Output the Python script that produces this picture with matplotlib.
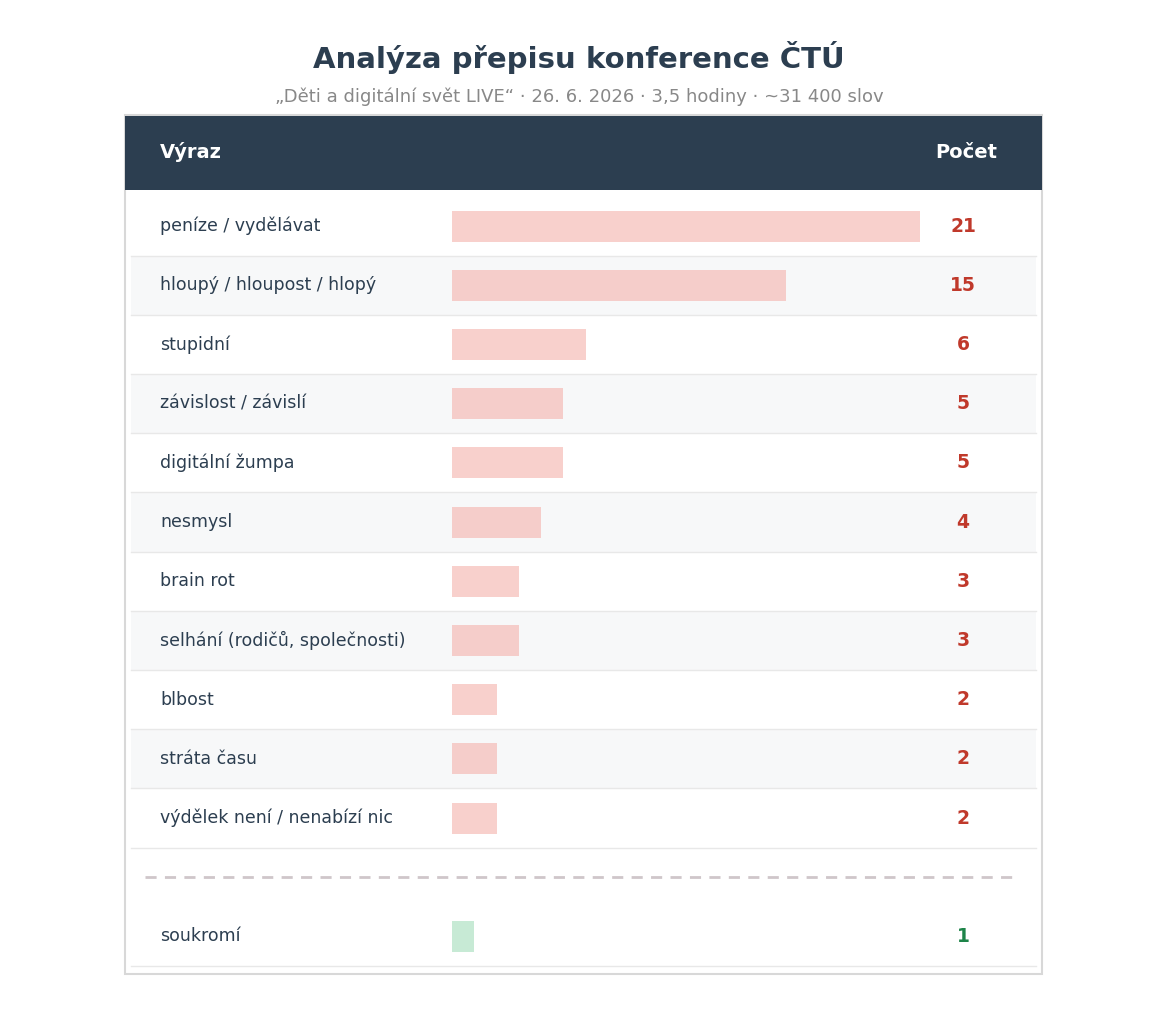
import matplotlib
matplotlib.use("Agg")
import matplotlib.pyplot as plt
from matplotlib.patches import Rectangle

TITLE = "Analýza přepisu konference ČTÚ"
SUBTITLE = "„Děti a digitální svět LIVE“ · 26. 6. 2026 · 3,5 hodiny · ~31 400 slov"

TERMS = ["peníze / vydělávat", "hloupý / hloupost / hlopý", "stupidní",
         "závislost / závislí", "digitální žumpa", "nesmysl", "brain rot",
         "selhání (rodičů, společnosti)", "blbost", "stráta času",
         "výdělek není / nenabízí nic"]
COUNTS = [21, 15, 6, 5, 5, 4, 3, 3, 2, 2, 2]
EXTRA_TERMS = ["soukromí"]
EXTRA_COUNTS = [1]

W, H = 1158, 1036
DARK = "#2c3e50"
RED = "#c0392b"
GREEN = "#1e8449"

fig = plt.figure(figsize=(W / 100, H / 100), dpi=100)
ax = fig.add_axes([0, 0, 1, 1])
ax.set_xlim(0, W)
ax.set_ylim(H, 0)
ax.axis("off")

# card + header
ax.add_patch(Rectangle((125, 115), 917, 859, facecolor="white",
                       edgecolor="#d8d8d8", linewidth=1.5, zorder=1))
ax.add_patch(Rectangle((125, 116), 917, 74, facecolor=DARK, zorder=2))
ax.text(160, 152, "Výraz", color="white", fontsize=14, fontweight="bold",
        va="center", zorder=3)
ax.text(997, 152, "Počet", color="white", fontsize=14, fontweight="bold",
        va="center", ha="right", zorder=3)

ax.text(W / 2, 57, TITLE, ha="center", va="center", fontsize=21,
        fontweight="bold", color=DARK)
ax.text(W / 2, 97, SUBTITLE, ha="center", va="center", fontsize=13,
        color="#888888")

row_h = 59.2
first = 226
centers = [first + i * row_h for i in range(len(TERMS))]
extra_centers = [936]

for i, (y, term, n) in enumerate(zip(centers, TERMS, COUNTS)):
    if i % 2 == 1:
        ax.add_patch(Rectangle((131, y - row_h / 2), 905, row_h,
                               facecolor="#f7f8f9", zorder=1.5))
    ax.plot([131, 1036], [y + row_h / 2] * 2, color="#e8e8e8", lw=1, zorder=1.6)
    ax.text(160, y, term, va="center", fontsize=12.5, color=DARK, zorder=3)
    ax.text(963, y, str(n), va="center", ha="center", fontsize=13.5,
            fontweight="bold", color=RED, zorder=3)

ax.plot([145, 1020], [877, 877], color="#cfc6ca", lw=2, ls=(0, (4, 3)), zorder=2)

for y, term, n in zip(extra_centers, EXTRA_TERMS, EXTRA_COUNTS):
    ax.plot([131, 1036], [y + 30] * 2, color="#e8e8e8", lw=1, zorder=1.6)
    ax.text(160, y, term, va="center", fontsize=12.5, color=DARK, zorder=3)
    ax.text(963, y, str(n), va="center", ha="center", fontsize=13.5,
            fontweight="bold", color=GREEN, zorder=3)

# bars on their own axes: 0..21 maps to x 452..920 px
bx = fig.add_axes([452 / W, 0, (920 - 452) / W, 1])
bx.set_xlim(0, max(COUNTS))
bx.set_ylim(H, 0)
bx.axis("off")
bx.patch.set_alpha(0)
bx.barh(centers, COUNTS, height=31, left=0, color="#f5b7b1", alpha=0.65, zorder=3)
bx.barh(extra_centers, EXTRA_COUNTS, height=31, left=0, color="#a9dfbf",
        alpha=0.65, zorder=3)

fig.savefig("out.png", dpi=100)
